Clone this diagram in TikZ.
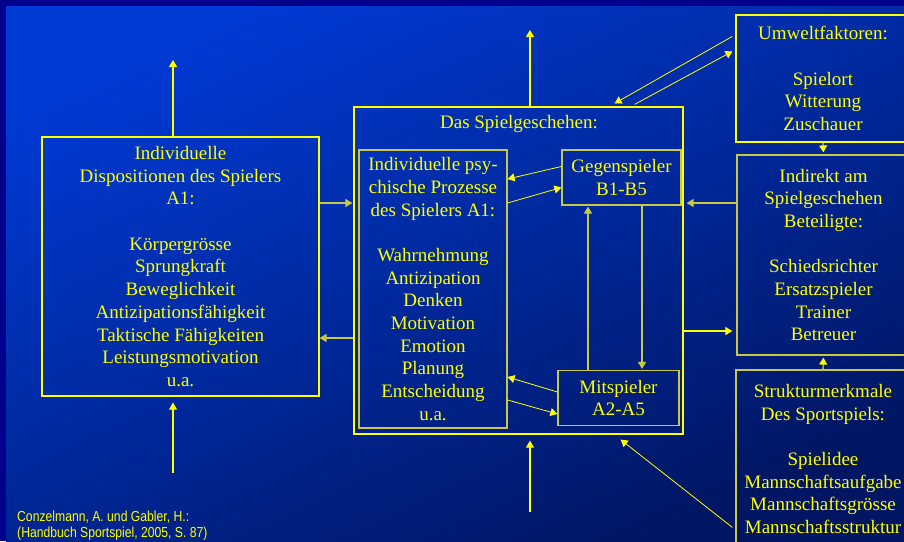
\documentclass[tikz,border=0pt]{standalone}
\usepackage{fontspec}
\setmainfont{Liberation Serif}
\newfontfamily\sourceFont[FakeStretch=0.84]{Liberation Sans}
\usetikzlibrary{positioning,arrows.meta}
\tikzstyle{slide} = [x = 1pt, y = -1pt]
\definecolor{frameColor}{RGB}{0,0,140}
\definecolor{bgTop}{RGB}{0,58,212}
\definecolor{bgBottom}{RGB}{0,22,98}
\definecolor{lineYellow}{RGB}{255,255,0}
\definecolor{lineOlive}{RGB}{200,200,70}
\tikzstyle{boxStyle} = [draw=lineYellow, line width=1.2pt, inner sep=0pt, align=center, text=lineYellow, font=\fontsize{19}{22.7}\selectfont]
\tikzstyle{innerBoxStyle} = [boxStyle, draw=lineOlive]
\tikzstyle{titleText} = [text=lineYellow, font=\fontsize{19}{22.7}\selectfont]
\tikzstyle{arrowLine} = [draw=lineYellow, line width=1.1pt, -{Triangle[length=7pt,width=8pt]}]
\tikzstyle{oliveArrow} = [arrowLine, draw=lineOlive, fill=lineYellow, line width=1.5pt]
\tikzstyle{thinArrow} = [arrowLine, line width=0.8pt]
\newcommand{\blankLine}{\\[22.7pt]}

\begin{document}
\begin{tikzpicture}[slide]
\useasboundingbox (0,0) rectangle (904,541);
\clip (0,0) rectangle (904,541);
\fill [frameColor] (0,0) rectangle (904,541);
\shade [top color=bgTop, bottom color=bgBottom, shading angle=25] (6,6) rectangle (904,541);
% left box
\node [boxStyle, minimum width=277pt, minimum height=259pt] (disp) at (180.5,266.5) {Individuelle\\Dispositionen des Spielers\\A1:\blankLine K\"orpergr\"osse\\Sprungkraft\\Beweglichkeit\\Antizipationsf\"ahigkeit\\Taktische F\"ahigkeiten\\Leistungsmotivation\\u.a.};
% middle
\node [boxStyle, minimum width=329pt, minimum height=327pt] (spiel) at (518.5,270.5) {};
\node [titleText] (spielTitle) at (519,124) {Das Spielgeschehen:};
\node [innerBoxStyle, minimum width=148pt, minimum height=278pt] (psych) at (433,289) {Individuelle psy-\\chische Prozesse\\des Spielers A1:\blankLine Wahrnehmung\\Antizipation\\Denken\\Motivation\\Emotion\\Planung\\Entscheidung\\u.a.};
\node [innerBoxStyle, minimum width=119pt, minimum height=55pt] (gegner) at (621.5,177.5) {Gegenspieler\\B1-B5};
\node [innerBoxStyle, minimum width=121pt, minimum height=55pt] (mit) at (618.5,398) {Mitspieler\\A2-A5};
% right column
\node [boxStyle, minimum width=174pt, minimum height=127pt] (umwelt) at (823,78.5) {Umweltfaktoren:\blankLine Spielort\\Witterung\\Zuschauer};
\node [innerBoxStyle, minimum width=173pt, minimum height=200pt] (indirekt) at (823.5,255) {Indirekt am\\Spielgeschehen\\Beteiligte:\blankLine Schiedsrichter\\Ersatzspieler\\Trainer\\Betreuer};
\node [innerBoxStyle, minimum width=174pt, minimum height=178pt] (struktur) at (823,459) {Strukturmerkmale\\Des Sportspiels:\blankLine Spielidee\\Mannschaftsaufgabe\\Mannschaftsgr\"osse\\Mannschaftsstruktur};
\node [anchor=west, align=left, text=lineYellow, font=\sourceFont\fontsize{14.5}{16}\selectfont, inner sep=0pt] (source) at (17,526) {Conzelmann, A. und Gabler, H.:\\(Handbuch Sportspiel, 2005, S. 87)};
% free ends
\coordinate (topLeftTip) at (173,60);
\coordinate (bottomLeftStart) at (173,473);
\coordinate (topMidTip) at (530,30);
\coordinate (bottomMidStart) at (530,512);
% arrows
\draw [arrowLine] (disp.north -| topLeftTip) -- (topLeftTip);
\draw [arrowLine, shorten >=6pt] (bottomLeftStart) -- (disp.south -| bottomLeftStart);
\draw [arrowLine] (spiel.north -| topMidTip) -- (topMidTip);
\draw [arrowLine, shorten >=6pt] (bottomMidStart) -- (spiel.south -| bottomMidStart);
\draw [oliveArrow, shorten >=1pt] (disp.east |- 0,203) -- (spiel.west |- 0,203);
\draw [oliveArrow] (spiel.west |- 0,338) -- (disp.east |- 0,338);
\draw [oliveArrow, shorten >=3pt] (indirekt.west |- 0,203) -- (spiel.east |- 0,203);
\draw [arrowLine, shorten >=4pt] (spiel.east |- 0,331) -- (indirekt.west |- 0,331);
\draw [arrowLine, shorten >=2pt] (umwelt.south) -- (indirekt.north);
\draw [arrowLine, shorten >=2pt] (struktur.north) -- (indirekt.south);
\draw [thinArrow] ([shift={(-3,22)}]umwelt.north west) -- ([shift={(-69,-3)}]spiel.north east);
\draw [thinArrow] ([shift={(-49,-2)}]spiel.north east) -- ([shift={(-3,37)}]umwelt.north west);
\draw [thinArrow] ([shift={(-3,158)}]struktur.north west) -- ([shift={(-63,5)}]spiel.south east);
\draw [thinArrow] ([yshift=11pt]gegner.west) -- (psych.east |- 0,179);
\draw [thinArrow] (psych.east |- 0,203) -- ([yshift=-10pt]gegner.west);
\draw [thinArrow] ([yshift=6pt]mit.west) -- (psych.east |- 0,377);
\draw [thinArrow] (psych.east |- 0,400) -- ([yshift=-16pt]mit.west);
\draw [arrowLine, draw=lineOlive, fill=lineYellow, shorten >=1pt] (mit.north -| 588,0) -- (gegner.south -| 588,0);
\draw [arrowLine, draw=lineOlive, fill=lineYellow, shorten >=1pt] (gegner.south -| 642,0) -- (mit.north -| 642,0);
\end{tikzpicture}
\end{document}
